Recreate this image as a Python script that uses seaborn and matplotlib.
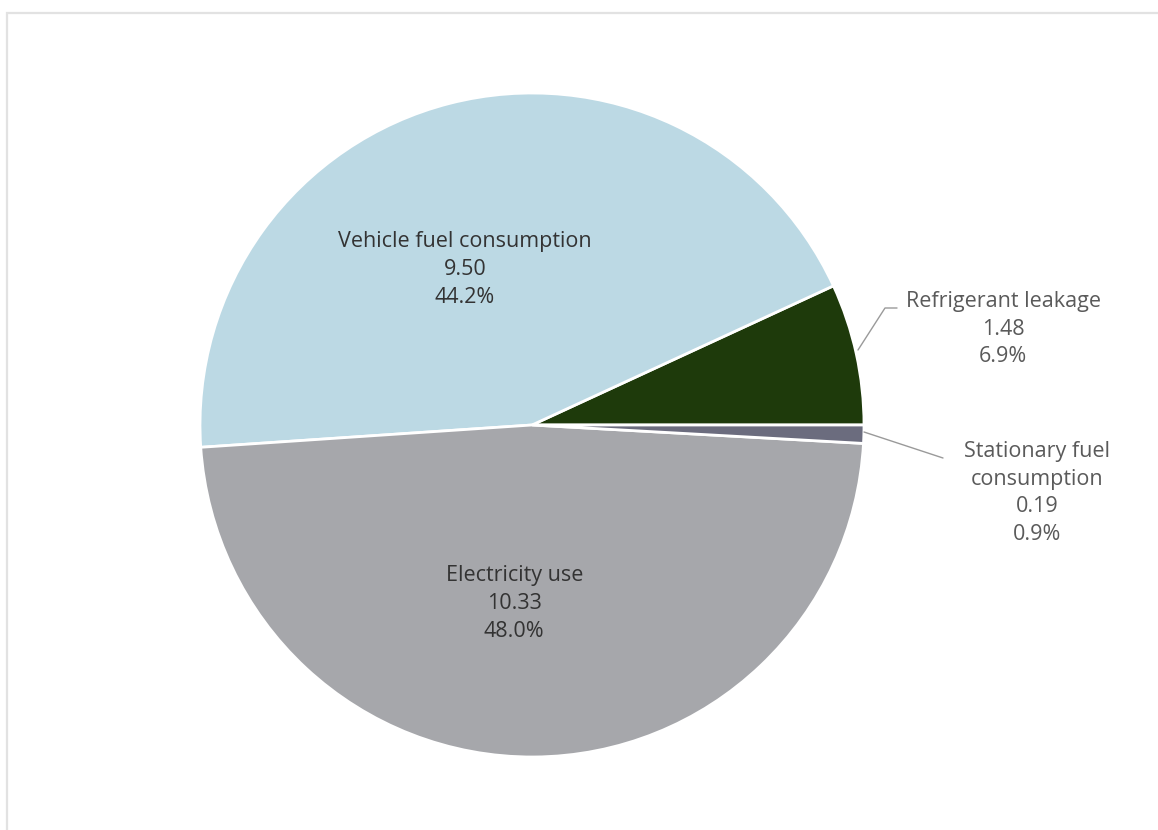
import numpy as np
import matplotlib
matplotlib.use("Agg")
import matplotlib.pyplot as plt
from matplotlib.patches import Rectangle
import seaborn as sns

# Data (tCO2e)
categories = ["Refrigerant leakage", "Vehicle fuel consumption", "Electricity use", "Stationary fuel consumption"]
values = [1.48, 9.50, 10.33, 0.19]
shares = [6.9, 44.2, 48.0, 0.9]
slice_colors = ["#1e3a0b", "#bcd9e4", "#a6a7ab", "#6b6c7e"]

sns.set_theme(style="white")
plt.rcParams["font.family"] = ["Open Sans", "DejaVu Sans"]

fig = plt.figure(figsize=(11.58, 8.3), dpi=100)
fig.patch.set_facecolor("white")

# light frame around the chart area
fig.add_artist(Rectangle((7 / 1158, -0.05), 1.1, (830 - 13) / 830 + 0.05,
                         transform=fig.transFigure, fill=False,
                         edgecolor="#e2e2e2", linewidth=1.6))

ax = fig.add_axes([200 / 1158, 73 / 830, 664 / 1158, 664 / 830])
palette = sns.color_palette(slice_colors)
wedges, _ = ax.pie(values, colors=palette, startangle=0, counterclock=True,
                   radius=1.0, wedgeprops=dict(edgecolor="white", linewidth=2))
ax.set_xlim(-1, 1)
ax.set_ylim(-1, 1)
ax.set_aspect("equal")
ax.axis("off")

FS = 15.5
LS = 1.42

def lbl(i):
    return f"{categories[i]}\n{values[i]:.2f}\n{shares[i]:.1f}%"

# inside labels (radius, angle offset in degrees from wedge middle)
inside = {1: (0.51, 9.0), 2: (0.54, -6.0)}
for i, (r, off) in inside.items():
    w = wedges[i]
    ang = np.deg2rad((w.theta1 + w.theta2) / 2 + off)
    ax.text(r * np.cos(ang), r * np.sin(ang), lbl(i), ha="center", va="center",
            fontsize=FS, color="#333333", linespacing=LS)

px = lambda x: (x - 532) / 332
py = lambda y: (425 - y) / 332

# outside labels with leader lines
def outside(i, start, elbow, text_xy, text, tail):
    xs = [start[0], elbow[0], elbow[0] + tail]
    ys = [start[1], elbow[1], elbow[1]]
    ax.plot(xs, ys, color="#9a9a9a", linewidth=1, clip_on=False)
    ax.text(text_xy[0], text_xy[1], text, ha="center", va="center",
            fontsize=FS, color="#5a5a5a", linespacing=LS, clip_on=False)

outside(0, (px(858), py(350)), (px(885), py(308)), (px(1003), py(329)), lbl(0),
        px(897) - px(885))
outside(3, (px(864), py(432)), (px(943), py(458)), (px(1037), py(493)),
        "Stationary fuel\nconsumption\n" + f"{values[3]:.2f}\n{shares[3]:.1f}%", 0.0)

fig.savefig("out.png", dpi=100, facecolor="white")
